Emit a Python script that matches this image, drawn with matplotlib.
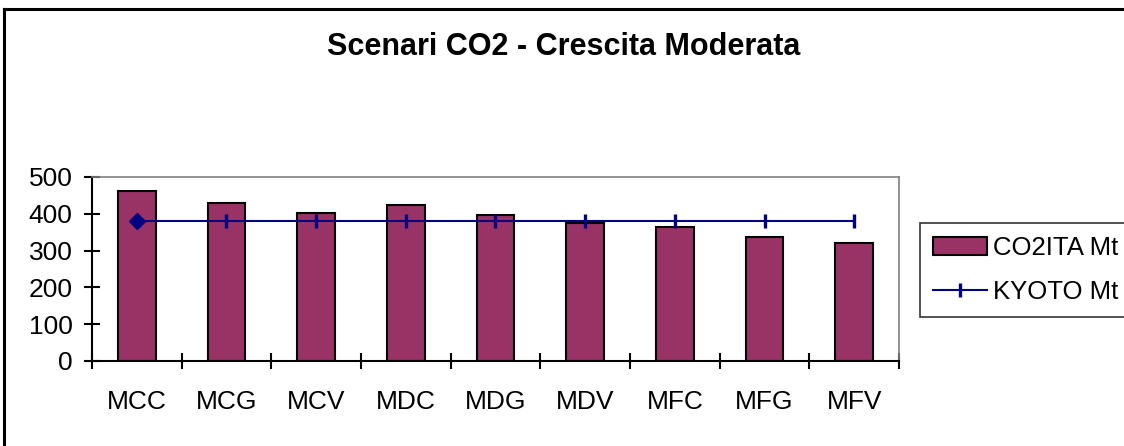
import matplotlib
matplotlib.use("Agg")
import matplotlib.pyplot as plt
from matplotlib.lines import Line2D
from matplotlib.patches import Patch

plt.rcParams['font.family'] = ['Liberation Sans', 'DejaVu Sans']

categories = ["MCC", "MCG", "MCV", "MDC", "MDG", "MDV", "MFC", "MFG", "MFV"]
co2ita = [462, 429, 402, 424, 397, 374, 364, 337, 321]
kyoto = [380, 380, 380, 380, 380, 380, 380, 380, 380]
yticks = [0, 100, 200, 300, 400, 500]

W, H = 1124, 446
fig = plt.figure(figsize=(W / 100, H / 100), dpi=100)
fig.patch.set_facecolor("white")

ax = fig.add_axes([92 / W, 1 - 361 / H, 807 / W, 184 / H])
x = list(range(len(categories)))

ax.bar(x, co2ita, width=0.42, color="#993366", edgecolor="black", linewidth=1.5, zorder=2)
ax.plot(x, kyoto, color="#000080", linewidth=1.5, marker="|", markersize=10.5,
        markeredgewidth=2.4, zorder=3)
ax.plot(x[:1], kyoto[:1], color="#000080", marker="D", markersize=8.5, linestyle="none", zorder=4)

ax.set_xlim(-0.5, len(categories) - 0.5)
ax.set_ylim(0, 500)
ax.set_yticks(yticks)
ax.set_yticklabels([str(v) for v in yticks], fontsize=19)
ax.set_xticks([i - 0.5 for i in range(len(categories) + 1)])
ax.set_xticklabels([])
ax.set_xticks(x, minor=True)
ax.set_xticklabels(categories, minor=True, fontsize=19)
ax.tick_params(axis="x", which="major", direction="inout", length=12, width=1.5)
ax.tick_params(axis="x", which="minor", length=0, pad=21)
ax.tick_params(axis="y", direction="inout", length=12, width=1.5, pad=8)

for s in ["left", "bottom"]:
    ax.spines[s].set_color("black")
    ax.spines[s].set_linewidth(1.5)
for s in ["top", "right"]:
    ax.spines[s].set_color("#808080")
    ax.spines[s].set_linewidth(1.2)

fig.text(564 / W, 1 - 47 / H, "Scenari CO2 - Crescita Moderata", ha="center", va="center",
         fontsize=22, fontweight="bold")

handles = [Patch(facecolor="#993366", edgecolor="black", linewidth=1.5),
           Line2D([0], [0], color="#000080", linewidth=1.5, marker="|", markersize=10.5,
                  markeredgewidth=2.4)]
leg = fig.legend(handles, ["CO2ITA Mt", "KYOTO Mt"], loc="upper left",
                 bbox_to_anchor=(920 / W, 1 - 223 / H), fontsize=18.5, frameon=True,
                 fancybox=False, borderpad=0.5, handlelength=2.1, handleheight=0.7,
                 handletextpad=0.25, labelspacing=0.8, borderaxespad=0)
leg.get_frame().set_edgecolor("black")
leg.get_frame().set_linewidth(1.2)

# outer chart border (top and left visible)
fig.add_artist(Line2D([4 / W, 4 / W], [0, 1 - 9 / H], color="black", linewidth=2.2,
                      transform=fig.transFigure))
fig.add_artist(Line2D([4 / W, 1], [1 - 9 / H, 1 - 9 / H], color="black", linewidth=2.2,
                      transform=fig.transFigure))

fig.savefig("out.png", dpi=100)
